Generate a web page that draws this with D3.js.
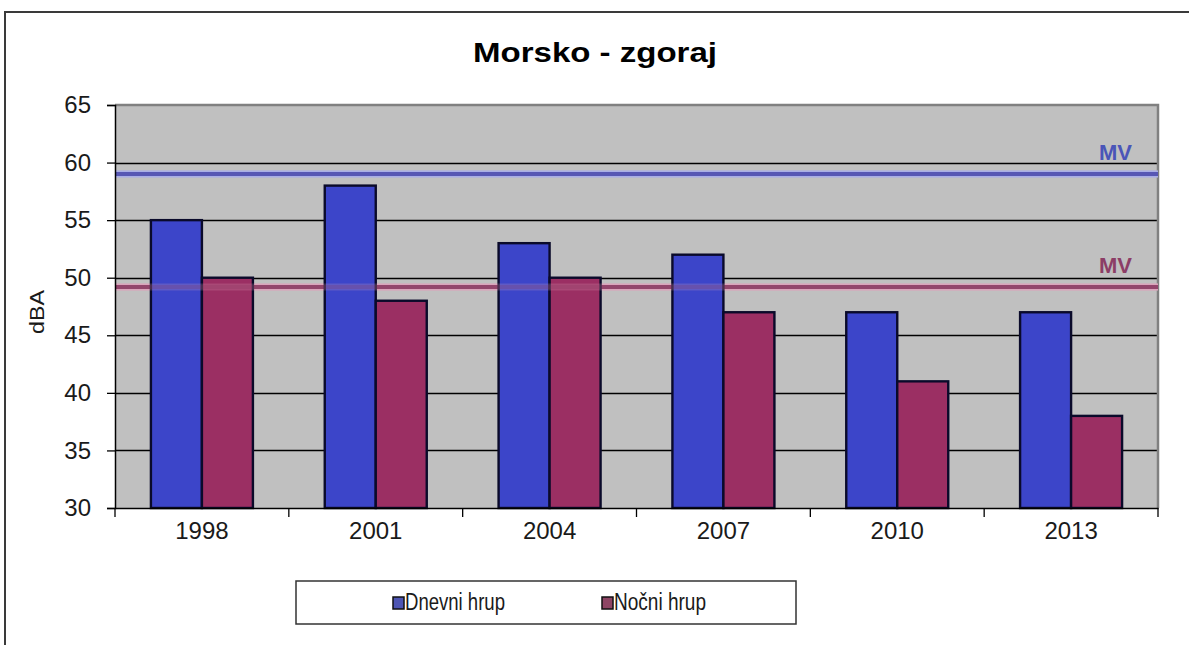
<!DOCTYPE html>
<html>
<head>
<meta charset="utf-8">
<script src="https://cdn.jsdelivr.net/npm/d3@7"></script>
<style>
  html, body { margin: 0; padding: 0; background: #fff; overflow: hidden; }
  svg { display: block; font-family: Arial, "Liberation Sans", sans-serif; }
</style>
</head>
<body>
<svg id="chart" width="1189" height="645"></svg>
<script>
// Noise levels at the upper Morsko measuring point
const years = ["1998", "2001", "2004", "2007", "2010", "2013"];
const dnevni = [55, 58, 53, 52, 47, 47];   // Dnevni hrup (day)
const nocni  = [50, 48, 50, 47, 41, 38];   // Nočni hrup (night)
const seriesNames = ["Dnevni hrup", "Nočni hrup"];
const limits = [59, 49.2];                  // MV limit values (day, night)
const yTicks = [30, 35, 40, 45, 50, 55, 60, 65];

const colors = ["#3c45c9", "#9b2f63"];
const limitColors = ["#4646aa", "#86345c"];
const limitHalo = ["#a9aee6", "#dba4bb"];

const plot = { left: 115, top: 105, right: 1158, bottom: 508 };

const svg = d3.select("#chart");

// outer chart frame (only the top and left edges fall inside the view)
svg.append("path")
  .attr("d", "M5,645 V12 H1189")
  .attr("fill", "none").attr("stroke", "#3a3a3a").attr("stroke-width", 2);

// title
svg.append("text")
  .attr("x", 595).attr("y", 62)
  .attr("text-anchor", "middle")
  .attr("font-size", 28).attr("font-weight", "bold")
  .attr("textLength", 244).attr("lengthAdjust", "spacingAndGlyphs")
  .attr("fill", "#000")
  .text("Morsko - zgoraj");

const x = d3.scaleBand().domain(years).range([plot.left, plot.right]).padding(0);
const y = d3.scaleLinear().domain([30, 65]).range([plot.bottom, plot.top]);

const barW = 51;
const groupOffset = (x.bandwidth() - 2 * barW) / 2;

// plot area background
svg.append("rect")
  .attr("x", plot.left).attr("y", plot.top)
  .attr("width", plot.right - plot.left).attr("height", plot.bottom - plot.top)
  .attr("fill", "#c0c0c0");

// horizontal gridlines
svg.append("g").selectAll("line")
  .data(yTicks.filter(t => t > 30 && t < 65))
  .join("line")
  .attr("x1", plot.left).attr("x2", plot.right)
  .attr("y1", d => Math.round(y(d)) + 0.5).attr("y2", d => Math.round(y(d)) + 0.5)
  .attr("stroke", "#000").attr("stroke-width", 1.3);

// plot area top / right border
svg.append("path")
  .attr("d", `M${plot.left},${plot.top} H${plot.right} V${plot.bottom}`)
  .attr("fill", "none").attr("stroke", "#808080").attr("stroke-width", 2.5);

// limit lines
function drawLimits(g, opacity) {
  limits.forEach((v, i) => {
    g.append("line")
      .attr("x1", plot.left).attr("x2", plot.right)
      .attr("y1", y(v)).attr("y2", y(v))
      .attr("stroke", limitHalo[i]).attr("stroke-width", 7).attr("opacity", opacity);
    g.append("line")
      .attr("x1", plot.left).attr("x2", plot.right)
      .attr("y1", y(v)).attr("y2", y(v))
      .attr("stroke", limitColors[i]).attr("stroke-width", 4).attr("opacity", opacity);
  });
}
drawLimits(svg.append("g"), 1);

// bars
const bars = svg.append("g");
[dnevni, nocni].forEach((vals, s) => {
  bars.selectAll(null)
    .data(vals.map((v, i) => ({ year: years[i], v })))
    .join("rect")
    .attr("x", d => x(d.year) + groupOffset + s * barW)
    .attr("y", d => y(d.v))
    .attr("width", barW)
    .attr("height", d => y(30) - y(d.v))
    .attr("fill", colors[s])
    .attr("stroke", "#0a0a2a").attr("stroke-width", 2.4);
});

// faint trace of the limit lines over the bars
drawLimits(svg.append("g"), 0.22);

// MV labels
limits.forEach((v, i) => {
  svg.append("text")
    .attr("x", 1132).attr("y", y(v) - 14)
    .attr("text-anchor", "end")
    .attr("font-size", 22).attr("font-weight", "bold")
    .attr("fill", i === 0 ? "#4a55b8" : "#8c3d66")
    .text("MV");
});

// y axis
const yAxis = svg.append("g")
  .attr("transform", `translate(${plot.left},0)`)
  .call(d3.axisLeft(y).tickValues(yTicks).tickSize(8).tickPadding(16).tickFormat(d3.format("d")));
yAxis.select(".domain").attr("stroke", "#000").attr("stroke-width", 1.5);
yAxis.selectAll(".tick line").attr("stroke", "#000").attr("stroke-width", 1.3);
yAxis.selectAll("text").attr("font-size", 24).attr("fill", "#1a1a1a")
  .attr("font-family", "Arial, 'Liberation Sans', sans-serif");

// x axis
const xAxis = svg.append("g")
  .attr("transform", `translate(0,${plot.bottom})`)
  .call(d3.axisBottom(x).tickSize(0).tickPadding(14));
xAxis.select(".domain").attr("stroke", "#000").attr("stroke-width", 1.5);
xAxis.selectAll("text").attr("font-size", 24).attr("fill", "#1a1a1a")
  .attr("font-family", "Arial, 'Liberation Sans', sans-serif");

// category boundary ticks
const bounds = years.map(d => x(d)).concat([plot.right]);
svg.append("g").selectAll("line")
  .data(bounds).join("line")
  .attr("x1", d => d).attr("x2", d => d)
  .attr("y1", plot.bottom).attr("y2", plot.bottom + 9)
  .attr("stroke", "#000").attr("stroke-width", 1.3);

// y axis title
svg.append("text")
  .attr("transform", "translate(44,312) rotate(-90)")
  .attr("text-anchor", "middle")
  .attr("font-size", 21)
  .attr("textLength", 44).attr("lengthAdjust", "spacingAndGlyphs")
  .attr("fill", "#1a1a1a")
  .text("dBA");

// legend
const legend = svg.append("g");
legend.append("rect")
  .attr("x", 296).attr("y", 581).attr("width", 500).attr("height", 43)
  .attr("fill", "#fff").attr("stroke", "#333").attr("stroke-width", 1.5);
const legendItems = [
  { name: seriesNames[0], x: 393, len: 100, fill: "#4e55b3" },
  { name: seriesNames[1], x: 602, len: 92, fill: "#8e4564" }
];
legendItems.forEach(it => {
  legend.append("rect")
    .attr("x", it.x).attr("y", 597).attr("width", 11).attr("height", 12)
    .attr("fill", it.fill).attr("stroke", "#111").attr("stroke-width", 1.5);
  legend.append("text")
    .attr("x", it.x + 12).attr("y", 610)
    .attr("font-size", 23).attr("fill", "#1a1a1a")
    .attr("textLength", it.len).attr("lengthAdjust", "spacingAndGlyphs")
    .text(it.name);
});
</script>
</body>
</html>
